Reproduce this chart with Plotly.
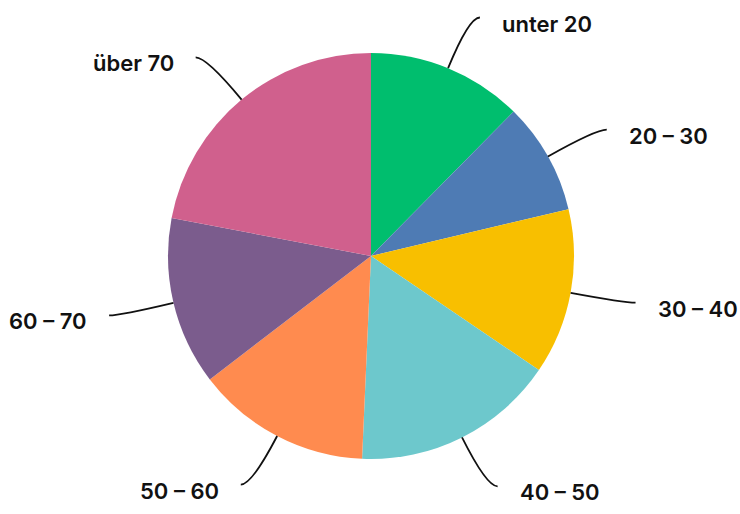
import math
import plotly.graph_objects as go

labels = ["unter 20", "20 – 30", "30 – 40", "40 – 50", "50 – 60", "60 – 70", "über 70"]
values = [12.4, 8.9, 13.2, 16.2, 13.9, 13.4, 22.0]
colors = ["#00BE6E", "#4E7BB4", "#F8BF00", "#6DC8CC", "#FF8B4F", "#7B5C8D", "#D0608D"]

W, H = 740, 514
CX, CY, R = 371, 256, 203

def px2paper(x, y):
    return x / W, 1 - y / H

x0, y0 = px2paper(CX - R, CY + R)
x1, y1 = px2paper(CX + R, CY - R)

fig = go.Figure(go.Pie(
    labels=labels, values=values, sort=False, direction="clockwise", rotation=0,
    marker=dict(colors=colors, line=dict(width=0)),
    textinfo="none", hoverinfo="label+percent", showlegend=False,
    domain=dict(x=[x0, x1], y=[y0, y1]),
))

total = sum(values)
shapes, annotations = [], []
cum = 0.0
for lab, v in zip(labels, values):
    mid = (cum + v / 2) / total * 2 * math.pi
    cum += v
    s, c = math.sin(mid), math.cos(mid)
    sign = 1 if s >= 0 else -1
    p0 = (CX + R * s, CY - R * c)
    pc = (CX + 1.27 * R * s, CY - 1.27 * R * c)
    pe = (pc[0] + sign * 11, pc[1])
    a = px2paper(*p0); b = px2paper(*pc); e = px2paper(*pe)
    shapes.append(dict(type="path", xref="paper", yref="paper",
                       path=f"M {a[0]},{a[1]} Q {b[0]},{b[1]} {e[0]},{e[1]}",
                       line=dict(color="#111111", width=1.8)))
    lx, ly = px2paper(pe[0] + sign * 20, pe[1] + 6)
    annotations.append(dict(x=lx, y=ly, xref="paper", yref="paper", text=lab,
                            showarrow=False, xanchor="left" if sign > 0 else "right",
                            yanchor="middle",
                            font=dict(family="Inter", size=22, color="#111111", weight=600)))

fig.update_layout(width=W, height=H, margin=dict(l=0, r=0, t=0, b=0),
                  paper_bgcolor="white", plot_bgcolor="white",
                  shapes=shapes, annotations=annotations)
fig.write_html("out.html", config={"displayModeBar": False},
               post_script="document.body.style.margin='0px';")
